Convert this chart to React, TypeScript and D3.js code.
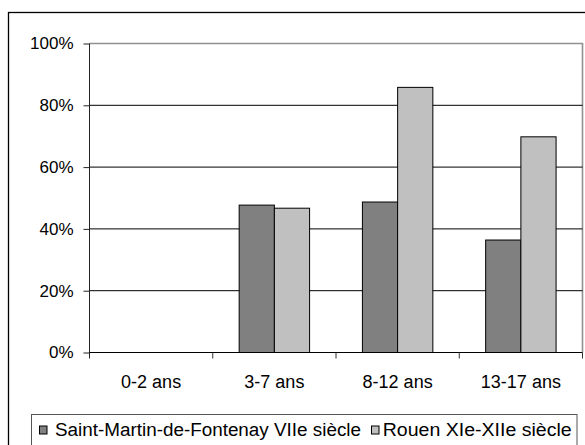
import * as d3 from "d3";
import { useEffect, useRef } from "react";

const categories = ["0-2 ans", "3-7 ans", "8-12 ans", "13-17 ans"];
const seriesNames = ["Saint-Martin-de-Fontenay VIIe siècle", "Rouen XIe-XIIe siècle"];
const saintMartin = [0, 47.7, 48.7, 36.4];
const rouen = [0, 46.7, 85.8, 69.8];
const yTicks = [0, 20, 40, 60, 80, 100];

const seriesColors = ["#808080", "#c0c0c0"];

export default function App() {
    const ref = useRef<SVGSVGElement | null>(null);

    useEffect(() => {
        if (!ref.current) return;
        const svg = d3.select(ref.current);
        svg.selectAll("*").remove();

        const width = 585;
        const height = 445;
        const font = "'Liberation Sans', Arial, sans-serif";
        const plot = { left: 89.5, right: 582.5, top: 43.5, bottom: 352.5 };

        // outer chart frame (runs off the right and bottom edges)
        svg.append("rect")
            .attr("x", 8.5)
            .attr("y", 12.5)
            .attr("width", 620)
            .attr("height", 520)
            .attr("fill", "white")
            .attr("stroke", "black")
            .attr("stroke-width", 1.3);

        const x = d3
            .scaleBand<string>()
            .domain(categories)
            .range([plot.left, plot.right]);
        const xInner = d3
            .scaleBand<string>()
            .domain(seriesNames)
            .range([0, x.bandwidth()])
            .paddingOuter(0.75);
        const y = d3.scaleLinear().domain([0, 100]).range([plot.bottom, plot.top]);

        // plot area border (gray)
        svg.append("path")
            .attr("d", `M${plot.left},${plot.top}H${plot.right}V${plot.bottom}`)
            .attr("fill", "none")
            .attr("stroke", "#909090")
            .attr("stroke-width", 1.6);

        // gridlines
        svg.append("g")
            .selectAll("line")
            .data(yTicks.filter((t) => t > 0 && t < 100))
            .join("line")
            .attr("x1", plot.left)
            .attr("x2", plot.right)
            .attr("y1", (d) => y(d))
            .attr("y2", (d) => y(d))
            .attr("stroke", "black")
            .attr("stroke-width", 1);

        // bars
        const data = [saintMartin, rouen];
        data.forEach((values, si) => {
            svg.append("g")
                .selectAll("rect")
                .data(values.map((v, i) => ({ cat: categories[i], v })))
                .join("rect")
                .filter((d) => d.v > 0)
                .attr("x", (d) => x(d.cat)! + xInner(seriesNames[si])!)
                .attr("y", (d) => y(d.v))
                .attr("width", xInner.bandwidth())
                .attr("height", (d) => y(0) - y(d.v))
                .attr("fill", seriesColors[si])
                .attr("stroke", "black")
                .attr("stroke-width", 1);
        });

        // y axis
        const yAxis = svg.append("g")
            .attr("transform", `translate(${plot.left},0)`)
            .call(
                d3
                    .axisLeft(y)
                    .tickValues(yTicks)
                    .tickSize(6)
                    .tickPadding(10)
                    .tickFormat((d) => `${d}%`),
            );
        yAxis.select(".domain").attr("d", `M0,${plot.top}V${plot.bottom + 6}`).attr("stroke", "#222");
        yAxis.selectAll(".tick line").attr("stroke", "#222");
        yAxis.selectAll("text")
            .attr("font-family", font)
            .attr("font-size", 17)
            .attr("fill", "black");

        // x axis
        const xAxis = svg.append("g")
            .attr("transform", `translate(0,${plot.bottom})`);
        xAxis.append("line")
            .attr("x1", plot.left)
            .attr("x2", plot.right)
            .attr("stroke", "black");
        xAxis.selectAll("line.tick")
            .data(categories.slice(1).map((c) => x(c)!).concat([plot.right]))
            .join("line")
            .attr("class", "tick")
            .attr("x1", (d) => d)
            .attr("x2", (d) => d)
            .attr("y1", 0)
            .attr("y2", 6)
            .attr("stroke", "#333");
        xAxis.selectAll("text")
            .data(categories)
            .join("text")
            .attr("x", (d) => x(d)! + x.bandwidth() / 2)
            .attr("y", 35)
            .attr("text-anchor", "middle")
            .attr("font-family", font)
            .attr("font-size", 18)
            .text((d) => d);

        // legend
        const legend = svg.append("g");
        legend.append("rect")
            .attr("x", 31.5)
            .attr("y", 414.5)
            .attr("width", 545.5)
            .attr("height", 60)
            .attr("fill", "white")
            .attr("stroke", "#555")
            .attr("stroke-width", 1);
        const items = [
            { sq: 39.5, tx: 55, len: 306 },
            { sq: 371.5, tx: 382.7, len: 189 },
        ];
        items.forEach((it, i) => {
            legend.append("rect")
                .attr("x", it.sq)
                .attr("y", 426)
                .attr("width", 7.5)
                .attr("height", 8)
                .attr("fill", seriesColors[i])
                .attr("stroke", "black")
                .attr("stroke-width", 1);
            legend.append("text")
                .attr("x", it.tx)
                .attr("y", 436)
                .attr("font-family", font)
                .attr("font-size", 18)
                .attr("textLength", it.len)
                .attr("lengthAdjust", "spacingAndGlyphs")
                .text(seriesNames[i]);
        });

        svg.attr("width", width).attr("height", height);
    }, []);

    return (
        <svg
            ref={ref}
            width={585}
            height={445}
            style={{ position: "absolute", left: 0, top: 0, background: "white" }}
        ></svg>
    );
}
